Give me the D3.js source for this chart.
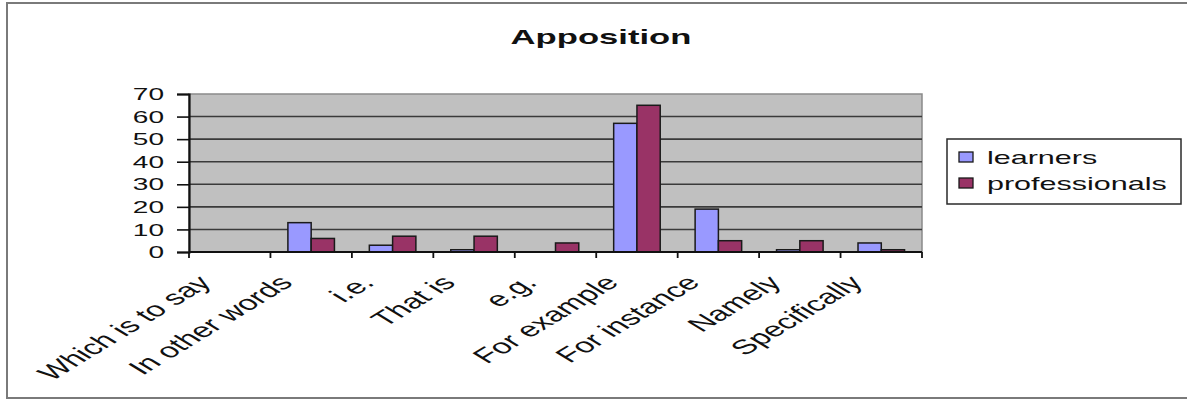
<!DOCTYPE html>
<html>
<head>
<meta charset="utf-8">
<script src="https://cdn.jsdelivr.net/npm/d3@7"></script>
<style>
  html, body { margin: 0; padding: 0; background: #fff; }
  svg { display: block; }
  text { font-family: Arial, "Liberation Sans", sans-serif; fill: #111; }
</style>
</head>
<body>
<svg id="chart" width="1187" height="401"></svg>
<script>
// Chart data
const categories = ["Which is to say", "In other words", "i.e.", "That is", "e.g.",
                    "For example", "For instance", "Namely", "Specifically"];
const seriesNames = ["learners", "professionals"];
const learners = [0, 13, 3, 1, 0, 57, 19, 1, 4];
const professionals = [0, 6, 7, 7, 4, 65, 5, 5, 1];
const yTicks = [0, 10, 20, 30, 40, 50, 60, 70];
const chartTitle = "Apposition";

const colors = { learners: "#9999ff", professionals: "#993366" };
const values = { learners, professionals };

// Text is drawn wide (horizontally stretched) to suit the stretched chart frame
const SX = 1.65;

const svg = d3.select("#chart");

// Outer frame
svg.append("rect")
  .attr("x", 7).attr("y", 3).attr("width", 1200).attr("height", 395)
  .attr("fill", "#fff").attr("stroke", "#7a7a7a").attr("stroke-width", 2);

const plot = { left: 189, right: 922, top: 94, bottom: 252 };

const x = d3.scaleBand().domain(categories).range([plot.left, plot.right]).padding(0);
const xs = d3.scaleBand().domain(seriesNames).range([0, x.bandwidth()])
  .paddingInner(0).paddingOuter(0.75);
const y = d3.scaleLinear().domain([0, 70]).range([plot.bottom, plot.top]);

// Plot background
svg.append("rect")
  .attr("x", plot.left).attr("y", plot.top)
  .attr("width", plot.right - plot.left).attr("height", plot.bottom - plot.top)
  .attr("fill", "#c0c0c0").attr("stroke", "#8a8a8a").attr("stroke-width", 1.5);

// Horizontal gridlines
svg.append("g").selectAll("line")
  .data(yTicks.filter(d => d > 0 && d < 70))
  .join("line")
  .attr("x1", plot.left).attr("x2", plot.right)
  .attr("y1", d => y(d)).attr("y2", d => y(d))
  .attr("stroke", "#3a3a3a").attr("stroke-width", 1.6);

// Bars
const groups = svg.append("g").selectAll("g")
  .data(categories)
  .join("g")
  .attr("transform", d => `translate(${x(d)},0)`);

groups.selectAll("rect")
  .data((d, i) => seriesNames.map(s => ({ s, v: values[s][i] })))
  .join("rect")
  .attr("x", d => xs(d.s))
  .attr("width", xs.bandwidth())
  .attr("y", d => y(d.v))
  .attr("height", d => y(0) - y(d.v))
  .attr("fill", d => colors[d.s])
  .attr("stroke", "#1a1a1a").attr("stroke-width", 1.5);

// Y axis
const yAxis = svg.append("g").attr("transform", `translate(${plot.left},0)`)
  .call(d3.axisLeft(y).tickValues(yTicks).tickSize(12).tickFormat(""));
yAxis.select(".domain").attr("stroke", "#111").attr("stroke-width", 2.2);
yAxis.selectAll(".tick line").attr("stroke", "#111").attr("stroke-width", 1.6);

svg.append("g").selectAll("text")
  .data(yTicks)
  .join("text")
  .attr("transform", d => `translate(164,${y(d)}) scale(${SX},1)`)
  .attr("text-anchor", "end")
  .attr("dy", "0.36em")
  .style("font-size", "17px")
  .text(d => d);

// X axis with tick marks at category boundaries
const xAxis = svg.append("g").attr("transform", `translate(0,${plot.bottom})`);
xAxis.append("line")
  .attr("x1", plot.left).attr("x2", plot.right)
  .attr("stroke", "#111").attr("stroke-width", 2);
xAxis.selectAll("line.tk")
  .data(d3.range(categories.length + 1))
  .join("line").attr("class", "tk")
  .attr("x1", i => plot.left + i * x.step()).attr("x2", i => plot.left + i * x.step())
  .attr("y1", 0).attr("y2", 6)
  .attr("stroke", "#111").attr("stroke-width", 1.8);

// Rotated category labels
svg.append("g").selectAll("text")
  .data(categories)
  .join("text")
  .attr("transform", d => `translate(${x(d) + x.bandwidth() / 2 - 17},284) scale(${SX},1) rotate(-45)`)
  .attr("text-anchor", "end")
  .style("font-size", "20.5px")
  .text(d => d);

// Title
svg.append("text")
  .attr("transform", `translate(601,44) scale(${SX},1)`)
  .attr("text-anchor", "middle")
  .style("font-size", "21px").style("font-weight", "bold")
  .text(chartTitle);

// Legend
const legend = svg.append("g");
legend.append("rect")
  .attr("x", 947).attr("y", 139).attr("width", 234).attr("height", 65)
  .attr("fill", "#fff").attr("stroke", "#2a2a2a").attr("stroke-width", 1.5);
const items = legend.selectAll("g.item")
  .data(seriesNames)
  .join("g").attr("class", "item")
  .attr("transform", (d, i) => `translate(959,${157 + i * 26})`);
items.append("rect")
  .attr("x", 0).attr("y", -5).attr("width", 14).attr("height", 10)
  .attr("fill", d => colors[d]).attr("stroke", "#1a1a1a").attr("stroke-width", 1.3);
items.append("text")
  .attr("transform", `translate(28,0) scale(${SX},1)`)
  .attr("dy", "0.36em")
  .style("font-size", "18.5px")
  .text(d => d);
</script>
</body>
</html>
